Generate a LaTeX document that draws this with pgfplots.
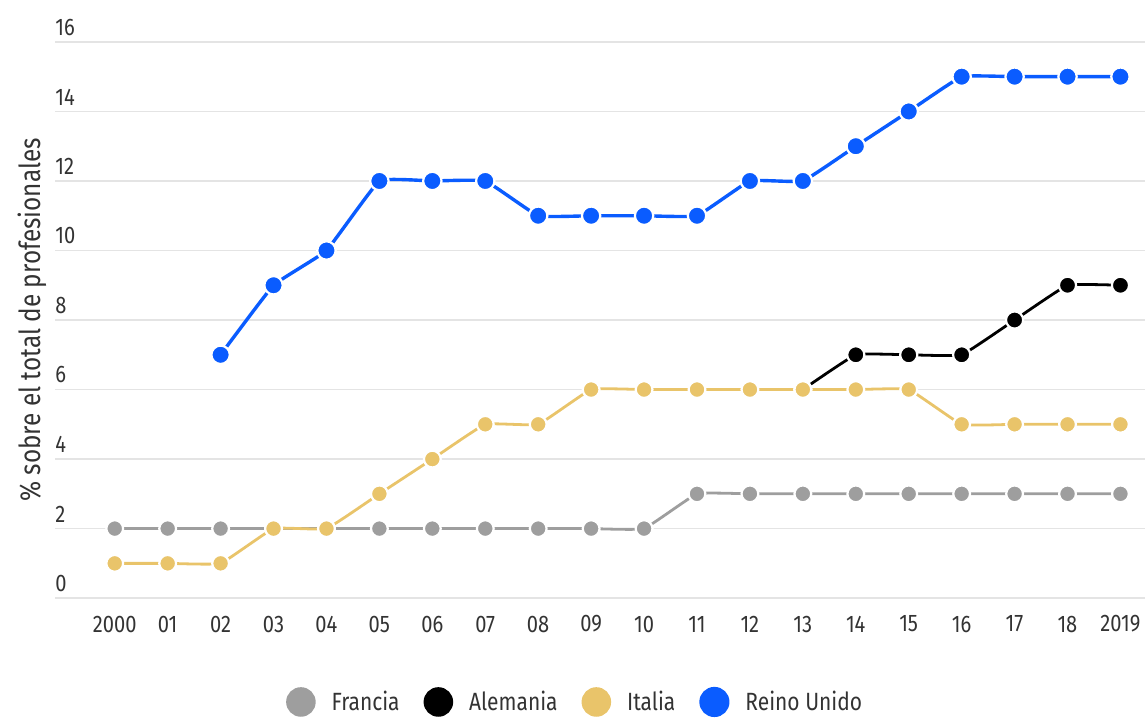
\documentclass[border=0pt]{standalone}
\usepackage{pgfplots}
\pgfplotsset{compat=1.18}
\usepackage{fontspec}
\setmainfont{Fira Sans}[FakeStretch=0.84]

\definecolor{cFra}{HTML}{9E9E9E}
\definecolor{cAle}{HTML}{000000}
\definecolor{cIta}{HTML}{E9C46A}
\definecolor{cRU}{HTML}{0A5CFF}
\definecolor{gridc}{HTML}{E4E4E4}
\definecolor{txt}{HTML}{333333}

\begin{document}
\begin{tikzpicture}
\begin{axis}[
  scale only axis,
  width=546pt, height=278.5pt,
  xmin=1998.87, xmax=2019.47,
  ymin=0, ymax=16,
  ytick={0,2,...,16},
  xtick={2000,...,2019},
  xticklabels={2000,01,02,03,04,05,06,07,08,09,10,11,12,13,14,15,16,17,18,2019},
  axis line style={draw=none},
  major tick length=0pt,
  ymajorgrids, xmajorgrids=false,
  y grid style={draw=gridc, line width=0.7pt},
  font=\fontsize{12}{14}\selectfont,
  /pgf/number format/assume math mode=true,
  tick label style={text=txt},
  yticklabel style={anchor=south west, inner xsep=0pt, inner ysep=3pt},
  xticklabel style={anchor=center, yshift=-13pt},
  ylabel={\% sobre el total de profesionales},
  ylabel style={at={(rel axis cs:-0.0211,0.5)}, anchor=center, text=txt, font=\fontsize{14.5}{16}\selectfont},
  legend style={at={(axis description cs:0.478,-0.1867)}, anchor=center, draw=none, fill=none,
    legend columns=4, font=\fontsize{12.5}{14}\selectfont, text=txt,
    /tikz/every odd column/.style={column sep=6pt},
    /tikz/every even column/.style={column sep=10pt}},
  legend image code/.code={\fill (0pt,0pt) circle (6.7pt);},
  every axis plot/.append style={smooth, tension=0.18, line width=1.4pt,
    mark=*, mark options={draw=white, line width=1.1pt}},
]
\addplot[color=cFra, mark size=4.2pt] coordinates {
  (2000,2) (2001,2) (2002,2) (2003,2) (2004,2) (2005,2) (2006,2) (2007,2) (2008,2) (2009,2)
  (2010,2) (2011,3) (2012,3) (2013,3) (2014,3) (2015,3) (2016,3) (2017,3) (2018,3) (2019,3)};
\addlegendentry{Francia}
\addplot[color=cAle, mark size=4.3pt] coordinates {
  (2013,6) (2014,7) (2015,7) (2016,7) (2017,8) (2018,9) (2019,9)};
\addlegendentry{Alemania}
\addplot[color=cIta, mark size=4.2pt] coordinates {
  (2000,1) (2001,1) (2002,1) (2003,2) (2004,2) (2005,3) (2006,4) (2007,5) (2008,5) (2009,6)
  (2010,6) (2011,6) (2012,6) (2013,6) (2014,6) (2015,6) (2016,5) (2017,5) (2018,5) (2019,5)};
\addlegendentry{Italia}
\addplot[color=cRU, line width=1.7pt, mark size=4.6pt] coordinates {
  (2002,7) (2003,9) (2004,10) (2005,12) (2006,12) (2007,12) (2008,11) (2009,11) (2010,11)
  (2011,11) (2012,12) (2013,12) (2014,13) (2015,14) (2016,15) (2017,15) (2018,15) (2019,15)};
\addlegendentry{Reino Unido}
\end{axis}
\useasboundingbox (-27.5pt,-58pt) rectangle (546pt,299.5pt);
\end{tikzpicture}
\end{document}
